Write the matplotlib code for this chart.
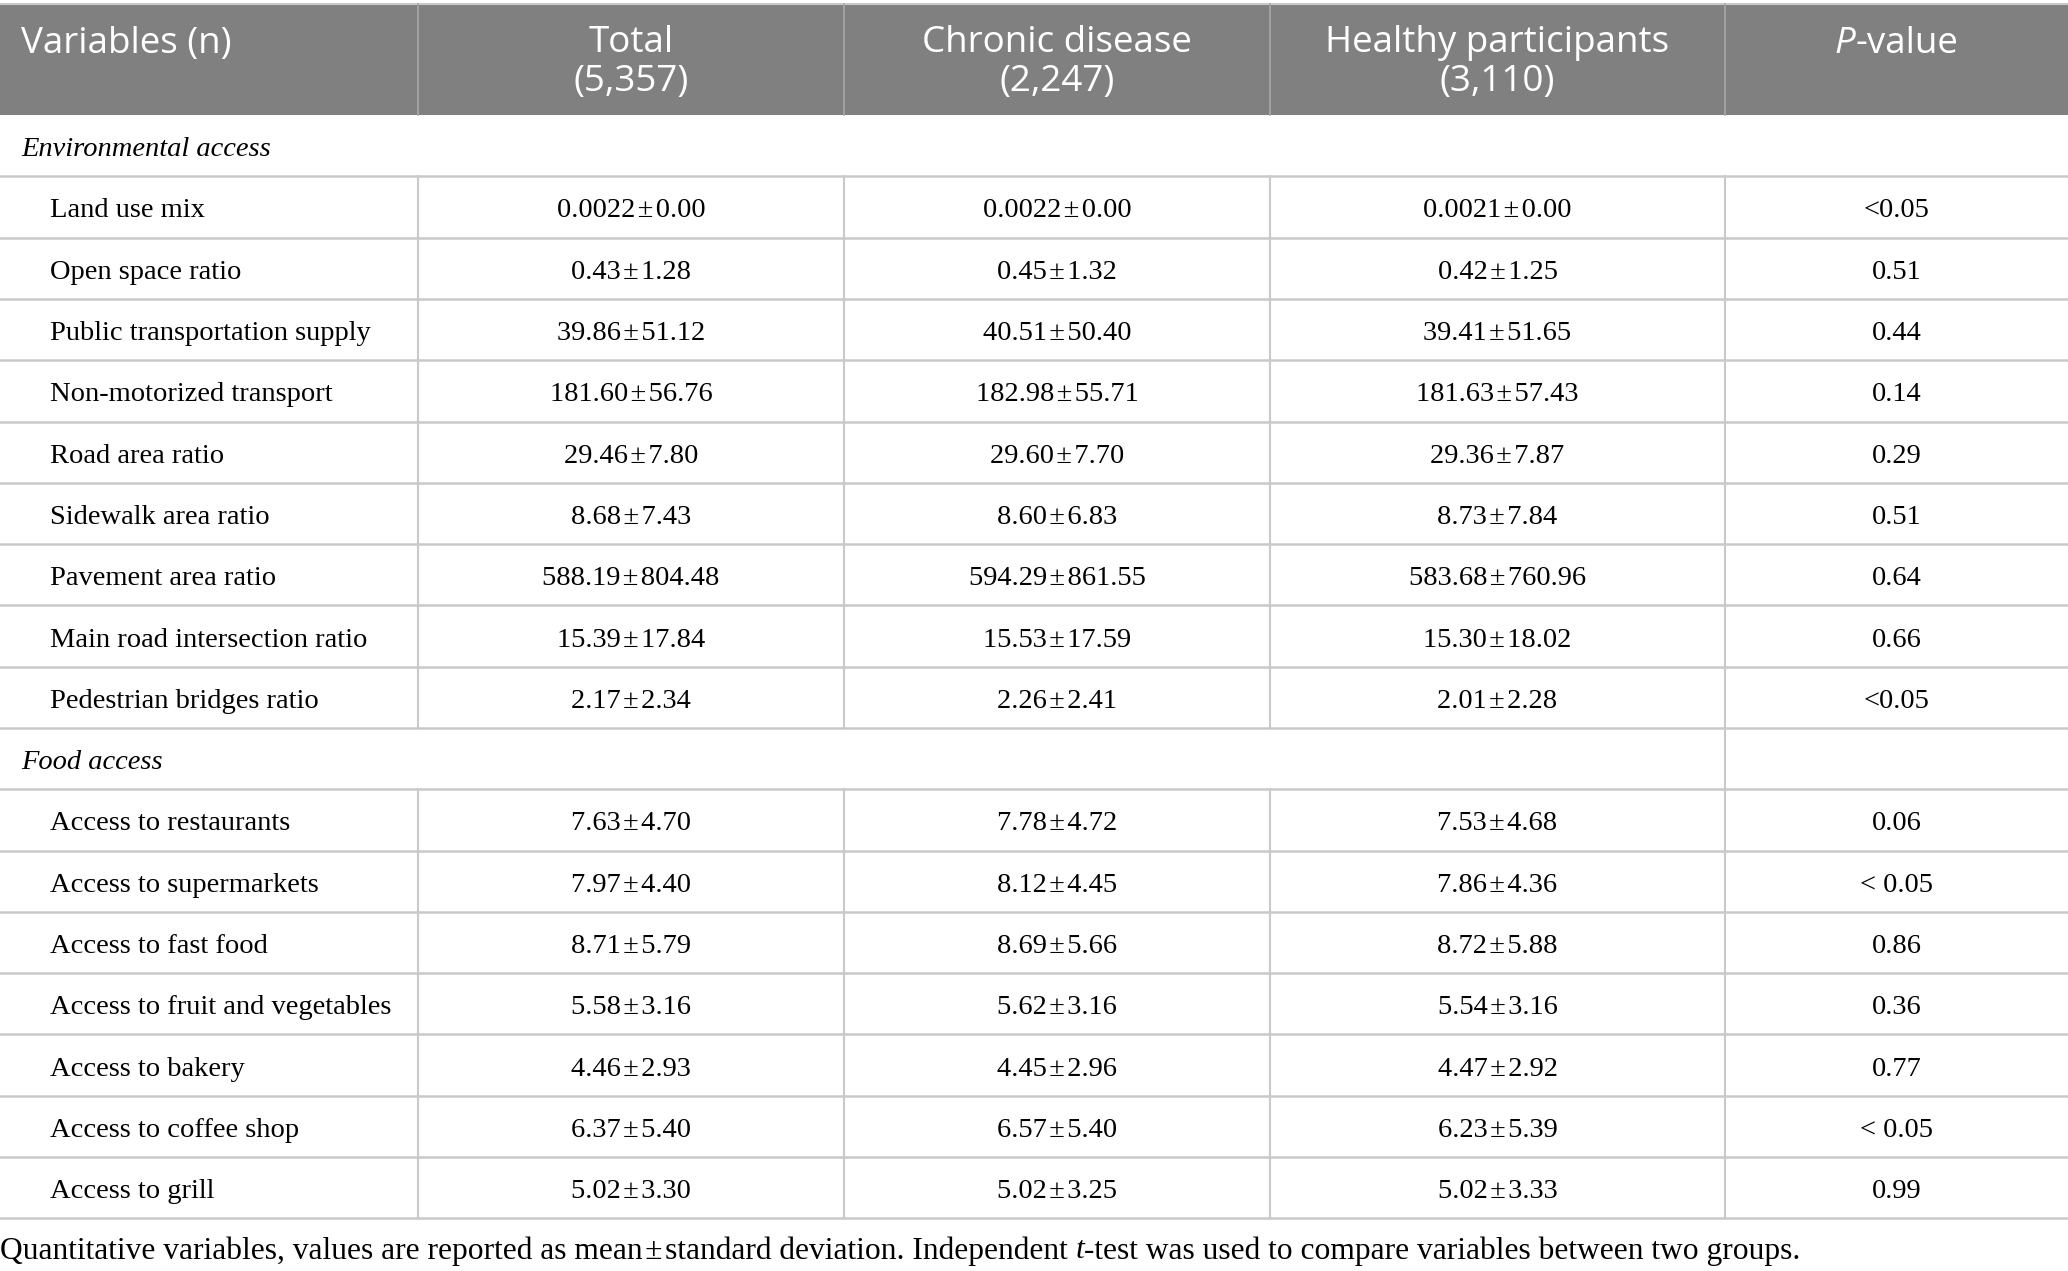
import matplotlib
matplotlib.use("Agg")
import matplotlib.pyplot as plt

W, H = 2068, 1271

# --- data ---
header_cols = ["Variables (n)", "Total\n(5,357)", "Chronic disease\n(2,247)",
               "Healthy participants\n(3,110)", "P-value"]

PM = "\u200a±\u200a"
env_title = "Environmental access"
env_vars = ["Land use mix", "Open space ratio", "Public transportation supply",
            "Non-motorized transport", "Road area ratio", "Sidewalk area ratio",
            "Pavement area ratio", "Main road intersection ratio", "Pedestrian bridges ratio"]
env_total = ["0.0022 ± 0.00", "0.43 ± 1.28", "39.86 ± 51.12", "181.60 ± 56.76", "29.46 ± 7.80",
             "8.68 ± 7.43", "588.19 ± 804.48", "15.39 ± 17.84", "2.17 ± 2.34"]
env_chronic = ["0.0022 ± 0.00", "0.45 ± 1.32", "40.51 ± 50.40", "182.98 ± 55.71", "29.60 ± 7.70",
               "8.60 ± 6.83", "594.29 ± 861.55", "15.53 ± 17.59", "2.26 ± 2.41"]
env_healthy = ["0.0021 ± 0.00", "0.42 ± 1.25", "39.41 ± 51.65", "181.63 ± 57.43", "29.36 ± 7.87",
               "8.73 ± 7.84", "583.68 ± 760.96", "15.30 ± 18.02", "2.01 ± 2.28"]
env_p = ["<0.05", "0.51", "0.44", "0.14", "0.29", "0.51", "0.64", "0.66", "<0.05"]

food_title = "Food access"
food_vars = ["Access to restaurants", "Access to supermarkets", "Access to fast food",
             "Access to fruit and vegetables", "Access to bakery", "Access to coffee shop",
             "Access to grill"]
food_total = ["7.63 ± 4.70", "7.97 ± 4.40", "8.71 ± 5.79", "5.58 ± 3.16", "4.46 ± 2.93",
              "6.37 ± 5.40", "5.02 ± 3.30"]
food_chronic = ["7.78 ± 4.72", "8.12 ± 4.45", "8.69 ± 5.66", "5.62 ± 3.16", "4.45 ± 2.96",
                "6.57 ± 5.40", "5.02 ± 3.25"]
food_healthy = ["7.53 ± 4.68", "7.86 ± 4.36", "8.72 ± 5.88", "5.54 ± 3.16", "4.47 ± 2.92",
                "6.23 ± 5.39", "5.02 ± 3.33"]
food_p = ["0.06", "< 0.05", "0.86", "0.36", "0.77", "< 0.05", "0.99"]

footnote = [("Quantitative variables, values are reported as mean" + PM + "standard deviation. "
             "Independent ", False), ("t", True),
            ("-test was used to compare variables between two groups.", False)]

# --- layout / style ---
col_edges = [0, 418, 844, 1270, 1725, W]
head_top, head_bot = 4, 115
row_h = 61.3
line_c = "#c9c9c9"
head_bg = "#808080"
SERIF = ["Liberation Serif", "DejaVu Serif"]
SANS = ["Open Sans", "DejaVu Sans"]
body_fs = 20.5
head_fs = 26.5
dy = 4  # text sits a little below the row centre

fig = plt.figure(figsize=(W / 100, H / 100), dpi=100)
ax = fig.add_axes([0, 0, 1, 1])
ax.set_xlim(0, W)
ax.set_ylim(H, 0)
ax.axis("off")
renderer = fig.canvas.get_renderer()


def pieces(x, y, parts, fs, family, color="black", ha="left"):
    # draw consecutive text pieces, some italic
    objs = []
    for s, it in parts:
        t = ax.text(0, y, s, fontsize=fs, family=family, color=color,
                    style="italic" if it else "normal", va="center", ha="left")
        objs.append(t)
    widths = [t.get_window_extent(renderer).width for t in objs]
    total = sum(widths)
    cx = x - total / 2 if ha == "center" else x
    for t, w in zip(objs, widths):
        t.set_x(cx)
        cx += w


# header
ax.fill_between([0, W], head_top, head_bot, color=head_bg, lw=0)
ax.plot([0, W], [head_top, head_top], color=line_c, lw=1.5)
for e in col_edges[1:-1]:
    ax.plot([e, e], [head_top, head_bot], color="#a8a8a8", lw=1.2)
ax.text(21, 44, header_cols[0], fontsize=head_fs, family=SANS, color="white",
        va="center", ha="left")
for i in range(1, 4):
    cx = (col_edges[i] + col_edges[i + 1]) / 2
    top, bot = header_cols[i].split("\n")
    ax.text(cx, 43, top, fontsize=head_fs, family=SANS, color="white", va="center", ha="center")
    ax.text(cx, 82, bot, fontsize=head_fs, family=SANS, color="white", va="center", ha="center")
pieces((col_edges[4] + col_edges[5]) / 2, 44, [("P", True), ("-value", False)],
       head_fs, SANS, color="white", ha="center")

# body rows
rows = [("section", env_title, True)]
rows += [("data", v, (a, b, c, p)) for v, a, b, c, p in
         zip(env_vars, env_total, env_chronic, env_healthy, env_p)]
rows += [("section", food_title, False)]
rows += [("data", v, (a, b, c, p)) for v, a, b, c, p in
         zip(food_vars, food_total, food_chronic, food_healthy, food_p)]

y0 = head_bot
for kind, label, vals in rows:
    y1 = y0 + row_h
    ym = (y0 + y1) / 2 + dy
    ax.plot([0, W], [y1, y1], color=line_c, lw=1.8)
    if kind == "section":
        ax.text(21, ym, label, fontsize=body_fs, family=SERIF, style="italic",
                va="center", ha="left")
        if not vals:
            ax.plot([col_edges[4]] * 2, [y0, y1], color=line_c, lw=1.5)
    else:
        ax.text(50, ym, label, fontsize=body_fs, family=SERIF, va="center", ha="left")
        for e in col_edges[1:-1]:
            ax.plot([e, e], [y0, y1], color=line_c, lw=1.5)
        for i, v in enumerate(vals):
            cx = (col_edges[i + 1] + col_edges[i + 2]) / 2
            ax.text(cx, ym, v.replace(" ± ", PM), fontsize=body_fs, family=SERIF,
                    va="center", ha="center")
    y0 = y1

pieces(0, 1251, footnote, 22.7, SERIF)

fig.savefig("out.png", dpi=100)
